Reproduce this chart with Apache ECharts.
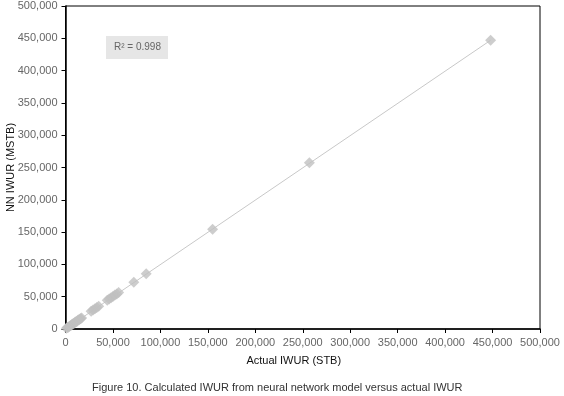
<!DOCTYPE html>
<html>
<head>
<meta charset="utf-8">
<script src="https://cdn.jsdelivr.net/npm/echarts@6/dist/echarts.min.js"></script>
<style>
  html, body { margin: 0; padding: 0; background: #fff; }
  #main { width: 564px; height: 396px; }
</style>
</head>
<body>
<div id="main"></div>
<script>
// actual vs predicted IWUR
var actual = [1000, 2000, 3000, 4000, 5000, 6000, 7000, 8000, 9000, 10000, 11000, 12000,
  13000, 14000, 15000, 16000, 17000,
  27000, 29000, 31000, 33000, 35000,
  44000, 46000, 48000, 50000, 52000, 54000, 56000,
  72000, 85000, 155000, 257000, 448000];
var predicted = [1300, 2200, 2900, 4300, 5200, 5800, 7300, 8100, 8900, 10300, 11200, 11800,
  13400, 14200, 15100, 16300, 17200,
  27500, 29300, 31200, 33400, 35100,
  44500, 46400, 48500, 50300, 52600, 54200, 56600,
  72500, 85500, 154500, 257500, 447000];
// trend line end points
var trendX = [0, 448000];
var trendY = [0, 447000];
var rSquared = '0.998';
var caption = 'Figure 10. Calculated IWUR from neural network model versus actual IWUR';

var points = actual.map(function (x, i) { return [x, predicted[i]]; });
var trend = trendX.map(function (x, i) { return [x, trendY[i]]; });

var myChart = echarts.init(document.getElementById('main'));

var labelStyle = {
    color: '#666',
    fontSize: 11,
    fontFamily: 'Liberation Sans, Arial, sans-serif'
};

var option = {
    animation: false,
    title: {
        text: caption,
        left: 87,
        top: 377,
        textStyle: {
            color: '#333',
            fontSize: 11,
            fontWeight: 'normal',
            fontFamily: 'Liberation Sans, Arial, sans-serif'
        }
    },
    grid: {
        left: 65.5,
        right: 24,
        top: 6,
        bottom: 67,
        containLabel: false,
        outerBoundsMode: 'none',
        show: true,
        borderColor: '#000',
        borderWidth: 1
    },
    xAxis: {
        type: 'value',
        min: 0,
        max: 500000,
        interval: 50000,
        name: 'Actual IWUR (STB)',
        nameLocation: 'middle',
        nameGap: 26,
        nameMoveOverlap: false,
        nameTextStyle: {
            color: '#111',
            fontSize: 11,
            fontFamily: 'Liberation Sans, Arial, sans-serif',
            padding: [0, 18, 0, 0]
        },
        axisLine: { lineStyle: { color: '#000', width: 1.5 } },
        axisTick: { show: true, length: 4, lineStyle: { color: '#000' } },
        axisLabel: Object.assign({ margin: 8, formatter: function (v) { return v.toLocaleString('en-US'); } }, labelStyle),
        splitLine: { show: false }
    },
    yAxis: {
        type: 'value',
        min: 0,
        max: 500000,
        interval: 50000,
        name: 'NN IWUR (MSTB)',
        nameLocation: 'middle',
        nameGap: 49,
        nameMoveOverlap: false,
        nameTextStyle: {
            color: '#111',
            fontSize: 11,
            fontFamily: 'Liberation Sans, Arial, sans-serif'
        },
        axisLine: { lineStyle: { color: '#000', width: 1.5 } },
        axisTick: { show: true, length: 4, lineStyle: { color: '#000' } },
        axisLabel: Object.assign({ margin: 8, formatter: function (v) { return v.toLocaleString('en-US'); } }, labelStyle),
        splitLine: { show: false }
    },
    graphic: [{
        type: 'group',
        left: 106,
        top: 36,
        children: [{
            type: 'rect',
            shape: { width: 62, height: 23 },
            style: { fill: '#e6e6e6' }
        }, {
            type: 'text',
            left: 8,
            top: 6,
            style: {
                text: 'R\u00b2 = ' + rSquared,
                fill: '#666',
                fontSize: 10,
                fontFamily: 'Liberation Sans, Arial, sans-serif'
            }
        }]
    }],
    series: [{
        type: 'line',
        data: trend,
        symbol: 'none',
        lineStyle: { color: '#c8c8c8', width: 1 },
        z: 1
    }, {
        type: 'scatter',
        data: points,
        symbol: 'diamond',
        symbolSize: 11,
        itemStyle: { color: '#c0c0c0' },
        z: 2
    }]
};

myChart.setOption(option);
</script>
</body>
</html>
